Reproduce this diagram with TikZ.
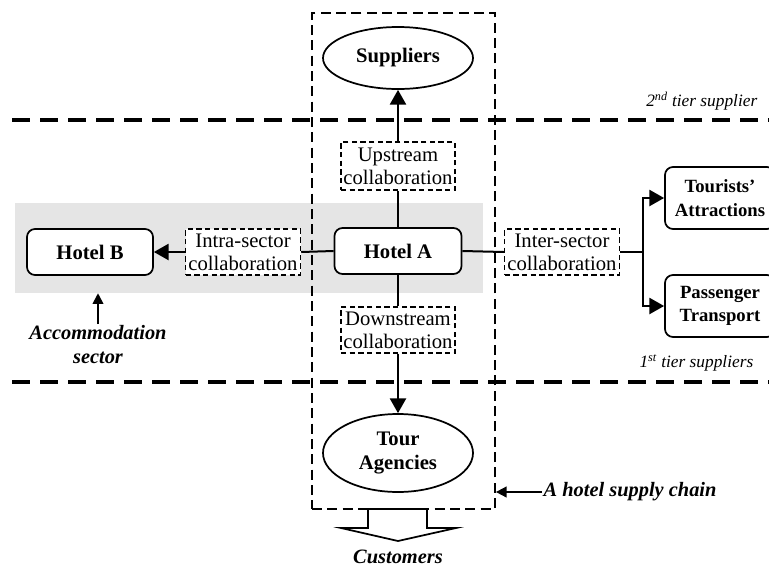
\documentclass[tikz,border=0pt]{standalone}
\usepackage{fontspec}
\setmainfont{Liberation Serif}
\usetikzlibrary{arrows.meta,shapes.geometric}
\begin{document}
\begin{tikzpicture}[x=0.75pt,y=-0.75pt,
  sz/.style 2 args={minimum width=#1*0.75pt,minimum height=#2*0.75pt,inner sep=0pt},
  txt/.style={font=\fontsize{15.5}{17.5}\selectfont,align=center},
  solidbox/.style={txt,draw,fill=white,line width=1.3pt,rounded corners=6pt,font=\fontsize{15.5}{17.5}\selectfont\bfseries},
  sidebox/.style={solidbox,font=\fontsize{14}{17.5}\selectfont\bfseries},
  oval/.style={txt,draw,fill=white,line width=1.3pt,ellipse,font=\fontsize{15.5}{17.5}\selectfont\bfseries},
  collab/.style={txt,draw,line width=1.1pt,dash pattern=on 4pt off 2.5pt,fill=white},
  conn/.style={line width=1.5pt},
  arr/.style={conn,-{Triangle[length=11pt,width=12pt]}},
  smallarr/.style={line width=1.3pt,-{Triangle[length=8pt,width=8pt]}},
  tier/.style={line width=3pt,dash pattern=on 13.5pt off 7.5pt},
  note/.style={font=\fontsize{13}{16}\selectfont\itshape},
  bnote/.style={font=\fontsize{15.3}{18}\selectfont\bfseries\itshape,align=center,inner sep=1pt}]
\useasboundingbox (0,0) rectangle (769,568);

% accommodation sector band
\node[fill=black!10,sz={468}{90}] (sector) at (249,248) {};

% tier boundaries
\coordinate (t2a) at (12,120);
\coordinate (t2b) at (775,120);
\coordinate (t1a) at (12,382);
\coordinate (t1b) at (775,382);
\draw[tier] (t2a) -- (t2b);
\draw[tier] (t1a) -- (t1b);

% the hotel supply chain frame
\node[draw,line width=1.3pt,dash pattern=on 7.5pt off 4pt,sz={183}{496}] (chain) at (403.5,261) {};

% nodes
\node[oval,sz={150}{62}] (sup) at (398,58) {Suppliers};
\node[collab,sz={114}{48}] (up) at (398,166) {Upstream\\collaboration};
\node[solidbox,sz={127}{46}] (ha) at (398,251) {Hotel A};
\node[solidbox,sz={126}{46}] (hb) at (90,252) {Hotel B};
\node[collab,sz={115}{46}] (intra) at (243,252) {Intra-sector\\collaboration};
\node[collab,sz={115}{46}] (inter) at (562,252) {Inter-sector\\collaboration};
\node[sidebox,sz={110}{62}] (ta) at (720,198) {Tourists’\\Attractions};
\node[sidebox,sz={110}{62}] (pt) at (720,306) {Passenger\\Transport};
\node[collab,sz={114}{46}] (down) at (398,330) {Downstream\\collaboration};
\node[oval,sz={150}{78}] (tour) at (398,453) {Tour\\Agencies};

% labels
\node[note,anchor=east] (lab2) at (762,101) {2\textsuperscript{nd} tier supplier};
\node[note,anchor=east] (lab1) at (758,363) {1\textsuperscript{st} tier suppliers};
\node[bnote] (acc) at (98,345) {Accommodation\\sector};
\node[bnote,anchor=west] (chainlab) at (542,492) {A hotel supply chain};
\node[bnote] (cust) at (398,557) {Customers};

% connectors
\draw[arr] (up.north) -- (sup.south);
\draw[conn] (ha.north) -- (up.south);
\draw[conn] (ha.south) -- (down.north);
\draw[arr] (down.south) -- (tour.north);
\draw[conn] (ha.west) -- (intra.east);
\draw[arr] (intra.west) -- (hb.east);
\draw[conn] (ha.east) -- (inter.west);
\coordinate (br) at ([xshift=23*0.75pt]inter.east);
\draw[conn] (inter.east) -- (br);
\draw[arr] (br) |- (ta.west);
\draw[arr] (br) |- (pt.west);
\draw[smallarr] (acc.north) -- (acc.north |- sector.south);
\draw[smallarr] (chainlab.west) -- (chain.east |- chainlab.west);

% outflow to customers
\draw[line width=1.3pt,fill=white,line join=miter]
  (368,509) -- (368,528) -- (341,528) -- (398,541) -- (456,528) -- (427,528) -- (427,509) -- cycle;
\end{tikzpicture}
\end{document}
